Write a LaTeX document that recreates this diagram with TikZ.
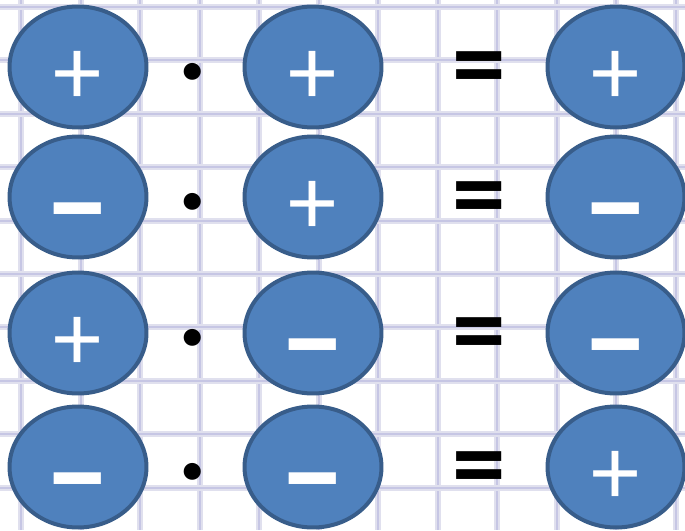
\documentclass[tikz,border=0pt]{standalone}
\usepackage{fontspec}
\setmainfont{Carlito}
\usetikzlibrary{shapes.geometric}
\definecolor{ovalfill}{RGB}{79,129,189}
\definecolor{ovalline}{RGB}{56,93,138}
\definecolor{gridsoft}{RGB}{224,224,238}
\definecolor{gridcore}{RGB}{198,198,228}

\begin{document}
\begin{tikzpicture}[x=0.02cm, y=-0.02cm,
	oval/.style={ellipse, draw=ovalline, fill=ovalfill, line width=0.08cm,
		minimum width=2.74cm, minimum height=2.42cm, inner sep=0pt},
	sign/.style={text=white, inner sep=0pt},
	plussign/.style={font=\fontsize{55}{55}\selectfont, node contents={+}, yshift=-0.22cm},
	minussign/.style={font=\bfseries\fontsize{76}{76}\selectfont, node contents={–}, yshift=-0.56cm},
	op/.style={inner sep=0pt}]
	% Paper
	\useasboundingbox (0,0) rectangle (685,530);
	\fill[white] (0,0) rectangle (685,530);
	
	% Grid lines
	\foreach \i in {0,...,11} {
		\draw[gridsoft, line width=0.12cm] ({21+59.5*\i},0) -- ++(0,530);
		\draw[gridcore, line width=0.04cm] ({21+59.5*\i},0) -- ++(0,530);
	}
	\foreach \j in {0,...,9} {
		\draw[gridsoft, line width=0.12cm] (0,{7+53.4*\j}) -- ++(685,0);
		\draw[gridcore, line width=0.04cm] (0,{7+53.4*\j}) -- ++(685,0);
	}
	
	% Rows: left * middle = right
	\foreach \r/\y/\a/\b/\c in {1/67/plussign/plussign/plussign,
		2/197/minussign/plussign/minussign,
		3/333/plussign/minussign/minussign,
		4/467/minussign/minussign/plussign} {
		\node[oval] (left\r) at (78,\y) {};
		\node[oval] (mid\r) at (313,\y) {};
		\node[oval] (right\r) at (616,\y) {};
		\node[sign, \a, name=lsign\r, at={(left\r.center)}];
		\node[sign, \b, name=msign\r, at={(mid\r.center)}];
		\node[sign, \c, name=rsign\r, at={(right\r.center)}];
		\node[op, font=\bfseries\fontsize{52}{52}\selectfont] (dot\r) at (193,\y+13) {·};
		\node[op, font=\bfseries\fontsize{61}{61}\selectfont] (eq\r) at (479,\y+9) {=};
	}
\end{tikzpicture}
\end{document}
